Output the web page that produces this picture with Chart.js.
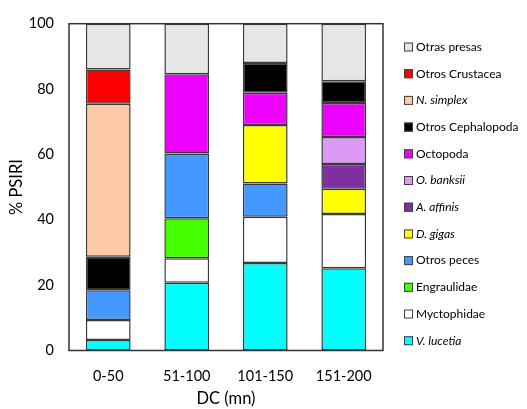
<!DOCTYPE html>
<html>
<head>
<meta charset="utf-8">
<script src="https://cdn.jsdelivr.net/npm/chart.js@4.4.1/dist/chart.umd.min.js"></script>
<style>
  html, body { margin: 0; padding: 0; background: #fff; }
  #wrap { width: 527px; height: 409px; position: relative; }
</style>
</head>
<body>
<div id="wrap"><canvas id="chart" width="527" height="409"></canvas></div>
<script>
'use strict';

// categories (DC, mn)
const categories = ['0-50', '51-100', '101-150', '151-200'];

// % PSIRI per prey (null = absent)
const vLucetia = [3.2, 20.7, 26.8, 25.2];
const myctophidae = [6.1, 7.5, 14.1, 16.6];
const engraulidae = [null, 12.3, null, null];
const otrosPeces = [9.1, 19.8, 10.2, null];
const dGigas = [null, null, 17.9, 7.7];
const aAffinis = [null, null, null, 7.6];
const oBanksii = [null, null, null, 8.2];
const octopoda = [null, 24.2, 9.9, 10.4];
const otrosCephalopoda = [10.3, null, 9.1, 6.7];
const nSimplex = [46.8, null, null, null];
const otrosCrustacea = [10.5, null, null, null];
const otrasPresas = [14.0, 15.5, 12.0, 17.6];

const yTicks = [0, 20, 40, 60, 80, 100];

function ds(label, data, color, italic) {
    return {
        label: label,
        data: data,
        backgroundColor: color,
        borderColor: '#3a3a3a',
        borderWidth: 1.5,
        borderSkipped: false,
        italic: italic
    };
}

const datasets = [
    ds('V. lucetia', vLucetia, '#00ffff', true),
    ds('Myctophidae', myctophidae, '#ffffff', false),
    ds('Engraulidae', engraulidae, '#44ff00', false),
    ds('Otros peces', otrosPeces, '#4499ff', false),
    ds('D. gigas', dGigas, '#ffff00', true),
    ds('A. affinis', aAffinis, '#7f2fa0', true),
    ds('O. banksii', oBanksii, '#dc99f5', true),
    ds('Octopoda', octopoda, '#ee00ff', false),
    ds('Otros Cephalopoda', otrosCephalopoda, '#000000', false),
    ds('N. simplex', nSimplex, '#fdcaa8', true),
    ds('Otros Crustacea', otrosCrustacea, '#ff0000', false),
    ds('Otras presas', otrasPresas, '#e6e6e6', false)
];

// frame round the plot area
const frame = {
    id: 'frame',
    afterDatasetsDraw: (chart) => {
        const {left, top, width, height} = chart.chartArea;
        const ctx = chart.ctx;
        ctx.save();
        ctx.strokeStyle = '#333';
        ctx.lineWidth = 1.5;
        ctx.strokeRect(left, top, width, height);
        ctx.restore();
    }
};

// legend drawn by hand so some names can be in italics
const sideLegend = {
    id: 'sideLegend',
    afterDraw: (chart) => {
        const ctx = chart.ctx;
        const items = chart.data.datasets.slice().reverse();
        const x0 = 404;
        const y0 = 47;
        const step = 26.7;
        ctx.save();
        ctx.textBaseline = 'middle';
        items.forEach((d, i) => {
            const y = y0 + i * step;
            ctx.fillStyle = d.backgroundColor;
            ctx.fillRect(x0, y - 4.5, 9, 9);
            ctx.strokeStyle = '#404040';
            ctx.lineWidth = 1;
            ctx.strokeRect(x0 + 0.5, y - 4, 8, 8);
            ctx.fillStyle = '#000';
            ctx.font = (d.italic ? 'italic ' : '') + '12px Lato';
            ctx.fillText(d.label, x0 + 12, y);
        });
        ctx.restore();
    }
};

new Chart(document.getElementById('chart'), {
    type: 'bar',
    data: { labels: categories, datasets: datasets },
    options: {
        responsive: false,
        animation: false,
        layout: { padding: { left: 7, right: 144, top: 21, bottom: 0 } },
        datasets: { bar: { barPercentage: 0.57, categoryPercentage: 1 } },
        plugins: {
            legend: { display: false },
            tooltip: { enabled: false }
        },
        scales: {
            x: {
                stacked: true,
                grid: { display: false, drawTicks: false },
                border: { display: false },
                ticks: { color: '#000', font: { family: 'Lato', size: 14.5 }, padding: 17 },
                title: { display: true, text: 'DC (mn)', color: '#000', font: { family: 'Lato', size: 16.5 }, padding: { top: 4, bottom: 0 } },
                afterFit: (s) => { s.height = 58.5; }
            },
            y: {
                stacked: true,
                min: 0,
                max: 100,
                afterBuildTicks: (s) => { s.ticks = yTicks.map(v => ({ value: v })); },
                grid: { display: false, drawTicks: false },
                border: { display: false },
                ticks: { color: '#000', font: { family: 'Lato', size: 14.5 }, padding: 15 },
                title: { display: true, text: '% PSIRI', color: '#000', font: { family: 'Lato', size: 16.5 }, padding: 0 },
                afterFit: (s) => { s.width = 62; }
            }
        }
    },
    plugins: [frame, sideLegend]
});
</script>
</body>
</html>
